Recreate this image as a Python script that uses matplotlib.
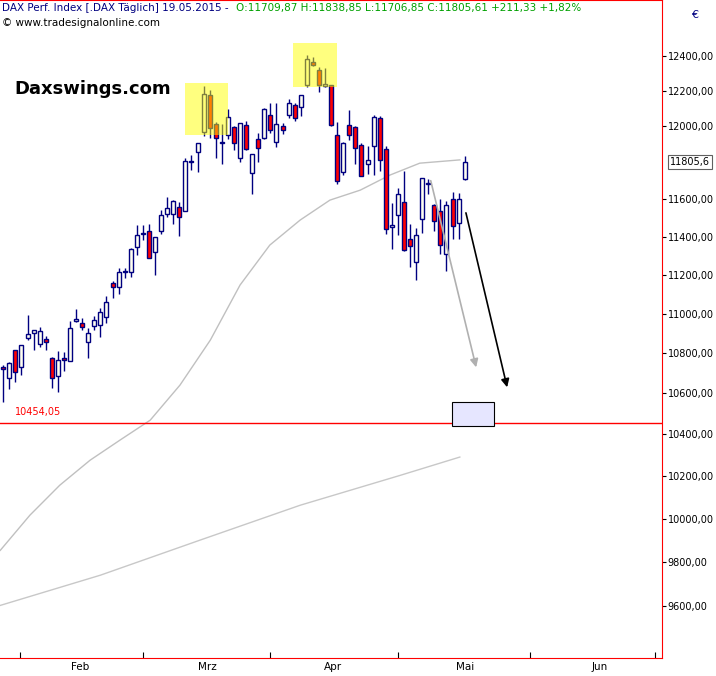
import matplotlib
matplotlib.use("Agg")
import matplotlib.pyplot as plt
from matplotlib.patches import Rectangle, FancyArrowPatch
from matplotlib.ticker import FixedLocator, NullFormatter, FuncFormatter, NullLocator

opens = [10729,10675,10814,10729,10877,10903,10847,10872,10773,10685,10773,10758,10963,10953,10857,10937,10943,10983,11156,11136,
         11213,11213,11345,11415,11432,11322,11432,11519,11519,11561,11540,11804,11857,11970,12175,12012,11908,11952,11997,11826,
         12007,11745,11930,11937,12062,11913,12002,12067,12119,12109,12235,12368,12318,12229,12235,11952,11747,12007,11997,11897,
         11790,11891,12048,11875,11450,11514,11585,11387,11269,11492,11682,11569,11540,11307,11600,11471,11709.87]
highs = [10739,10753,10814,10839,10995,10917,10934,10886,10779,10809,10804,10963,11024,10975,10927,10988,11029,11090,11170,11234,
         11234,11339,11460,11460,11470,11397,11542,11611,11595,11584,11826,11840,11910,12229,12203,12026,12012,12096,12004,12022,
         12033,11850,11963,12101,12134,12129,12017,12156,12129,12175,12403,12395,12334,12329,12235,12027,11913,12093,12005,11908,
         11891,12066,12056,11889,11578,11663,11756,11470,11447,11718,11708,11574,11600,11590,11641,11636,11838.85]
lows = [10557,10619,10654,10688,10866,10813,10832,10813,10626,10606,10710,10758,10956,10915,10773,10917,10882,10951,11080,11099,
        11182,11190,11305,11383,11287,11197,11415,11503,11468,11405,11540,11762,11749,11946,11937,11823,11794,11930,11870,11804,
        11870,11627,11804,11930,11963,11886,11958,12045,12029,12057,12223,12345,12192,12223,12000,11682,11730,11925,11794,11725,
        11737,11730,11752,11417,11337,11410,11323,11243,11175,11421,11627,11432,11307,11222,11390,11390,11706.85]
closes = [10720,10748,10705,10839,10898,10917,10912,10857,10675,10763,10763,10927,10973,10932,10903,10968,11009,11060,11136,11213,
          11218,11335,11407,11417,11287,11397,11514,11556,11590,11508,11811,11806,11910,12180,11992,11937,11912,12053,11908,12017,
          11875,11850,11880,12096,11980,12012,11980,12134,12045,12175,12385,12350,12235,12240,12007,11700,11906,11952,11880,11728,
          11817,12053,11817,11440,11461,11627,11332,11352,11410,11718,11685,11482,11359,11569,11455,11600,11805.61]

ma50_idx = [-0.5,4.4,9.3,14.3,19.2,24.2,29.1,34.1,39,43.9,48.9,53.8,58.8,63.7,68.6,75.2]
ma50_val = [9853,10016,10156,10275,10371,10468,10640,10865,11147,11356,11489,11596,11650,11732,11797,11815]
ma200_idx = [-0.5,16,32.4,48.9,65.4,75.2]
ma200_val = [9604,9740,9900,10062,10203,10290]

month_labels = ["Feb", "Mrz", "Apr", "Mai", "Jun"]
month_label_pos = [12.6, 33.6, 54.3, 76.1, 98.3]
month_tick_pos = [2.75, 23, 43.9, 65, 86.8, 107.3]
yticks = [v for v in range(9600, 12401, 200) if v != 11800]
support = 10454.05

fig = plt.figure(figsize=(7.16, 6.76), dpi=100)
ax = fig.add_axes([0, 18/676, 662/716, 1 - 18/676])
ax.set_yscale('log')
ax.set_xlim(-0.54, 108.5)
ax.set_ylim(9372, 12727)

navy = "#000080"
n = len(opens)
for i in range(n):
    o, h, l, c = opens[i], highs[i], lows[i], closes[i]
    ax.vlines(i, l, h, color=navy, lw=1.0, zorder=2)
    up = c >= o
    lo, hi = min(o, c), max(o, c)
    if hi - lo < 4:
        hi = lo + 4
    ax.add_patch(Rectangle((i - 0.33, lo), 0.66, hi - lo, facecolor="#fffff0" if up else "#ff0000",
                           edgecolor=navy, lw=1.0, zorder=3))

ax.plot(ma50_idx, ma50_val, color="#c0c0c0", lw=1, zorder=1)
ax.plot(ma200_idx, ma200_val, color="#c8c8c8", lw=1, zorder=1)
ax.axhline(support, color="red", lw=1, zorder=1)
ax.text(2, support * 1.003, "10454,05", color="red", fontsize=7, va="bottom")

ax.add_patch(Rectangle((29.9, 11952), 7.1, 12245 - 11952, facecolor="yellow", alpha=0.5, edgecolor="none", zorder=4))
ax.add_patch(Rectangle((47.7, 12222), 7.3, 12475 - 12222, facecolor="yellow", alpha=0.5, edgecolor="none", zorder=4))
ax.add_patch(Rectangle((73.9, 10438), 7.0, 10556 - 10438, facecolor="#e6e6ff", edgecolor="black", lw=0.8, zorder=4))

ax.add_patch(FancyArrowPatch((70.3, 11716), (78, 10715), arrowstyle="-|>", mutation_scale=12, color="#b0b0b0", lw=1.2, zorder=4))
ax.add_patch(FancyArrowPatch((76.1, 11542), (83.1, 10616), arrowstyle="-|>", mutation_scale=12, color="black", lw=1.2, zorder=4))

ax.yaxis.tick_right()
ax.yaxis.set_major_locator(FixedLocator(yticks))
ax.yaxis.set_minor_locator(NullLocator())
ax.yaxis.set_major_formatter(FuncFormatter(lambda v, p: f"{v:.2f}".replace(".", ",")))
ax.yaxis.set_minor_formatter(NullFormatter())
ax.tick_params(axis='y', labelsize=7, length=3, pad=1)

ax.set_xticks(month_tick_pos)
ax.set_xticklabels([])
ax.set_xticks(month_label_pos, minor=True)
ax.set_xticklabels(month_labels, minor=True)
ax.tick_params(axis='x', which='major', length=4, direction='in')
ax.tick_params(axis='x', which='minor', length=0, labelsize=7.5, pad=3)

for s in ax.spines.values():
    s.set_color("red")
ax.spines['left'].set_visible(False)

ax.annotate("11805,6", xy=(1.0, closes[-1]), xycoords=('axes fraction', 'data'), xytext=(6, 0),
            textcoords='offset points', fontsize=7, va='center', ha='left',
            bbox=dict(boxstyle='square,pad=0.2', fc='white', ec='#606060', lw=0.8), annotation_clip=False)

fig.text(0.003, 0.995, "DAX Perf. Index [.DAX Täglich] 19.05.2015 - ", color="#000080", fontsize=7.5, va='top')
fig.text(0.329, 0.995, "O:11709,87 H:11838,85 L:11706,85 C:11805,61 +211,33 +1,82%", color="#00a000", fontsize=7.5, va='top')
fig.text(0.003, 0.973, "© www.tradesignalonline.com", color="black", fontsize=7.5, va='top')
fig.text(0.02, 0.868, "Daxswings.com", color="black", fontsize=13, fontweight='bold', va='center')
fig.text(0.965, 0.985, "€", color="#000080", fontsize=8, va='top')

fig.savefig("out.png", dpi=100)
